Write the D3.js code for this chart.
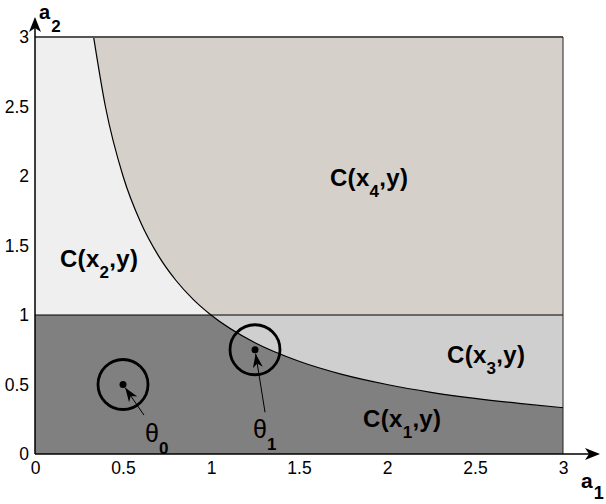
<!DOCTYPE html>
<html>
<head>
<meta charset="utf-8">
<script src="https://cdn.jsdelivr.net/npm/d3@7"></script>
<style>
  body { margin: 0; background: #fff; }
  text { font-family: "Liberation Sans", Arial, sans-serif; }
</style>
</head>
<body>
<svg class="chart"></svg>
<script>
// boundary curve
const CURVE_X = [0.333, 0.4, 0.5, 0.6, 0.7, 0.8, 0.9, 1, 1.25, 1.5, 1.75, 2, 2.25, 2.5, 2.75, 3];
const CURVE_Y = [3, 2.5, 2, 1.667, 1.429, 1.25, 1.111, 1, 0.8, 0.667, 0.571, 0.5, 0.444, 0.4, 0.364, 0.333];
const LEVEL_Y = 1;

const X_TICKS = [0, 0.5, 1, 1.5, 2, 2.5, 3];
const Y_TICKS = [0, 0.5, 1, 1.5, 2, 2.5, 3];

// label anchor = left edge / baseline, in data units
const REGION_LABELS = [
  { sub: "2", x: 0.142, y: 1.345 },
  { sub: "4", x: 1.676, y: 1.928 },
  { sub: "3", x: 2.341, y: 0.655 },
  { sub: "1", x: 1.864, y: 0.194 }
];
const THETA_POINTS = [
  { sub: "0", x: 0.5, y: 0.5, tx: 0.619, ty: 0.28, lx: 0.625, ly: 0.086 },
  { sub: "1", x: 1.25, y: 0.75, tx: 1.307, ty: 0.30, lx: 1.239, ly: 0.115 }
];

const W = 606, H = 504;
const svg = d3.select(".chart").attr("width", W).attr("height", H);

const X_fxn = d3.scaleLinear().domain([0, 3]).range([35, 563]);
const Y_fxn = d3.scaleLinear().domain([0, 3]).range([454, 37]);

const curve_pts = CURVE_X.map((x, i) => [x, CURVE_Y[i]]);
const line_fxn = d3.line().x(d => X_fxn(d[0])).y(d => Y_fxn(d[1])).curve(d3.curveMonotoneX);

// regions
svg.append("rect").attr("x", X_fxn(0)).attr("y", Y_fxn(3))
  .attr("width", X_fxn(3) - X_fxn(0)).attr("height", Y_fxn(LEVEL_Y) - Y_fxn(3))
  .attr("fill", "#efefef");
svg.append("rect").attr("x", X_fxn(0)).attr("y", Y_fxn(LEVEL_Y))
  .attr("width", X_fxn(3) - X_fxn(0)).attr("height", Y_fxn(0) - Y_fxn(LEVEL_Y))
  .attr("fill", "#cfcfcf");

const upper = curve_pts.filter(d => d[1] >= LEVEL_Y);
const lower = curve_pts.filter(d => d[1] <= LEVEL_Y);
svg.append("path")
  .attr("d", line_fxn(upper) + `L${X_fxn(3)},${Y_fxn(LEVEL_Y)}L${X_fxn(3)},${Y_fxn(3)}Z`)
  .attr("fill", "#d5d0c9");
svg.append("path")
  .attr("d", `M${X_fxn(0)},${Y_fxn(0)}L${X_fxn(0)},${Y_fxn(LEVEL_Y)}` + line_fxn(lower).replace("M", "L") + `L${X_fxn(3)},${Y_fxn(0)}Z`)
  .attr("fill", "#808080");

// boundaries
svg.append("path").attr("d", line_fxn(curve_pts)).attr("fill", "none").attr("stroke", "#000").attr("stroke-width", 1.2);
svg.append("line").attr("x1", X_fxn(0)).attr("x2", X_fxn(3)).attr("y1", Y_fxn(LEVEL_Y)).attr("y2", Y_fxn(LEVEL_Y))
  .attr("stroke", "#000").attr("stroke-width", 1.2);
svg.append("line").attr("x1", X_fxn(0)).attr("x2", X_fxn(3)).attr("y1", Y_fxn(3)).attr("y2", Y_fxn(3))
  .attr("stroke", "#555").attr("stroke-width", 2);
svg.append("line").attr("x1", X_fxn(3)).attr("x2", X_fxn(3)).attr("y1", Y_fxn(3)).attr("y2", Y_fxn(0))
  .attr("stroke", "#222").attr("stroke-width", 1);

// axes with arrows
svg.append("line").attr("x1", X_fxn(0)).attr("x2", 596).attr("y1", Y_fxn(0)).attr("y2", Y_fxn(0)).attr("stroke", "#000").attr("stroke-width", 1.5);
svg.append("line").attr("x1", X_fxn(0)).attr("x2", X_fxn(0)).attr("y1", Y_fxn(0)).attr("y2", 20).attr("stroke", "#000").attr("stroke-width", 1.5);
const ax = X_fxn(0), ay = Y_fxn(0);
svg.append("path").attr("d", `M${600},${ay}L${585},${ay - 6}L${589},${ay}L${585},${ay + 6}Z`).attr("fill", "#000");
svg.append("path").attr("d", `M${ax},${17}L${ax - 6},${32}L${ax},${28}L${ax + 6},${32}Z`).attr("fill", "#000");

const xAxis = svg.append("g").attr("transform", `translate(0,${Y_fxn(0)})`)
  .call(d3.axisBottom(X_fxn).tickValues(X_TICKS).tickSize(0).tickPadding(8).tickFormat(d3.format("~g")));
xAxis.select(".domain").remove();
xAxis.selectAll("text").attr("font-size", 17.5).attr("fill", "#000").style("font-family", "Liberation Sans, Arial, sans-serif");

const yAxis = svg.append("g").attr("transform", `translate(${X_fxn(0)},0)`)
  .call(d3.axisLeft(Y_fxn).tickValues(Y_TICKS).tickSize(0).tickPadding(6).tickFormat(d3.format("~g")));
yAxis.select(".domain").remove();
yAxis.selectAll("text").attr("font-size", 17.5).attr("fill", "#000").style("font-family", "Liberation Sans, Arial, sans-serif");

// axis names
const a2 = svg.append("text").attr("x", 39).attr("y", 19).attr("font-size", 20).attr("font-weight", "bold");
a2.append("tspan").text("a");
a2.append("tspan").attr("dx", 1).attr("dy", 13).attr("font-size", 17).text("2");
const a1 = svg.append("text").attr("x", 581).attr("y", 488).attr("font-size", 21).attr("font-weight", "bold");
a1.append("tspan").text("a");
a1.append("tspan").attr("dx", 1).attr("dy", 11).attr("font-size", 18).text("1");

// region labels
REGION_LABELS.forEach(r => {
  const t = svg.append("text").attr("x", X_fxn(r.x)).attr("y", Y_fxn(r.y)).attr("font-size", 24)
    .attr("font-weight", "bold").attr("letter-spacing", 0.3).attr("fill", "#000");
  t.append("tspan").text("C(x");
  t.append("tspan").attr("dy", 11).attr("font-size", 17).text(r.sub);
  t.append("tspan").attr("dy", -11).text(",y)");
});

// theta points
THETA_POINTS.forEach(p => {
  const cx = X_fxn(p.x), cy = Y_fxn(p.y);
  svg.append("circle").attr("cx", cx).attr("cy", cy).attr("r", 25).attr("fill", "none").attr("stroke", "#000").attr("stroke-width", 2.8);
  svg.append("circle").attr("cx", cx).attr("cy", cy).attr("r", 3.5).attr("fill", "#000");
  const sx = X_fxn(p.tx), sy = Y_fxn(p.ty);
  const ang = Math.atan2(cy - sy, cx - sx);
  const ex = cx - Math.cos(ang) * 4, ey = cy - Math.sin(ang) * 4;
  svg.append("line").attr("x1", sx).attr("y1", sy).attr("x2", ex).attr("y2", ey).attr("stroke", "#000").attr("stroke-width", 1);
  const hl = 14, hw = 5;
  const bx = ex - Math.cos(ang) * hl, by = ey - Math.sin(ang) * hl;
  const nx = -Math.sin(ang), ny = Math.cos(ang);
  const mx = ex - Math.cos(ang) * hl * 0.7, my = ey - Math.sin(ang) * hl * 0.7;
  svg.append("path").attr("d", `M${ex},${ey}L${bx + nx * hw},${by + ny * hw}L${mx},${my}L${bx - nx * hw},${by - ny * hw}Z`).attr("fill", "#000");
  const t = svg.append("text").attr("x", X_fxn(p.lx)).attr("y", Y_fxn(p.ly)).attr("font-size", 25).attr("fill", "#000")
    .style("font-family", "Liberation Sans, Arial, sans-serif");
  t.append("tspan").text("θ");
  t.append("tspan").attr("dy", 12).attr("font-size", 17).attr("font-weight", "bold").text(p.sub);
});
</script>
</body>
</html>
